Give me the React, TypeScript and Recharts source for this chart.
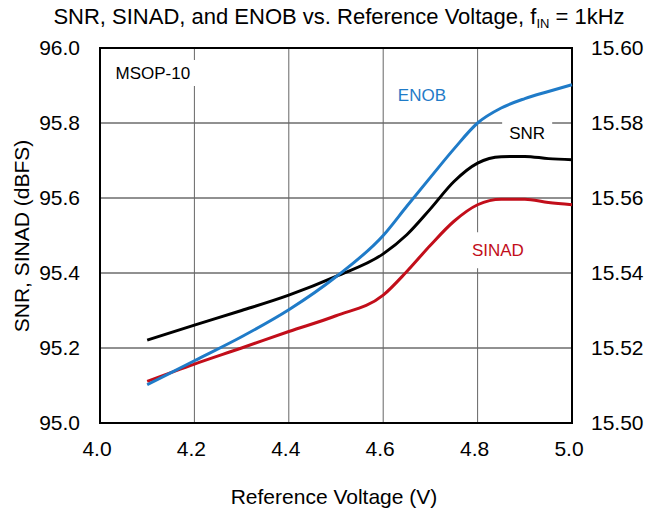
import { LineChart, Line, XAxis, YAxis, CartesianGrid, ReferenceArea } from 'recharts';

// Reference voltage sweep (V)
const voltage = [4.1, 4.2, 4.3, 4.4, 4.5, 4.6, 4.65, 4.7, 4.75, 4.8, 4.85, 4.9, 4.95, 5.0];
// SNR and SINAD in dBFS (left axis)
const snr = [95.221, 95.261, 95.3, 95.341, 95.391, 95.451, 95.502, 95.571, 95.644, 95.693, 95.71, 95.711, 95.705, 95.702];
const sinad = [95.111, 95.157, 95.2, 95.244, 95.286, 95.341, 95.404, 95.474, 95.538, 95.582, 95.597, 95.597, 95.588, 95.582];
// ENOB in bits (right axis)
const enob = [15.5102, 15.5166, 15.523, 15.5302, 15.539, 15.55, 15.5578, 15.5655, 15.5731, 15.58, 15.584, 15.5865, 15.5884, 15.5902];

const xTicks = [4.0, 4.2, 4.4, 4.6, 4.8, 5.0];
const leftTicks = [95.0, 95.2, 95.4, 95.6, 95.8, 96.0];
const rightTicks = [15.5, 15.52, 15.54, 15.56, 15.58, 15.6];

const data = voltage.map((v, i) => ({ v, snr: snr[i], sinad: sinad[i], enob: enob[i] }));

const FONT = '"Liberation Sans", Arial, sans-serif';
const BLUE = '#1f7bc8';
const RED = '#c20e1a';

const tickStyle = { fill: '#000', fontSize: 21, fontFamily: FONT };

export default function App() {
  return (
    <div style={{ position: 'fixed', left: 0, top: 0, width: 647, height: 514, background: '#fff' }}>
      <LineChart width={647} height={514} data={data} margin={{ top: 48, right: 0, bottom: 0, left: 0 }}>
        <CartesianGrid yAxisId="left" vertical={false} stroke="#222" strokeWidth={1} />
        <CartesianGrid yAxisId="left" horizontal={false} stroke="#666" strokeWidth={1} />
        <XAxis
          dataKey="v"
          type="number"
          domain={[4, 5]}
          ticks={xTicks}
          tickFormatter={(t: number) => t.toFixed(1)}
          height={91}
          axisLine={false}
          tickLine={false}
          tickSize={0}
          tickMargin={18}
          tick={{ ...tickStyle, dx: -3 }}
        />
        <YAxis
          yAxisId="left"
          domain={[95, 96]}
          ticks={leftTicks}
          tickFormatter={(t: number) => t.toFixed(1)}
          width={100}
          axisLine={false}
          tickLine={false}
          tickSize={0}
          tickMargin={20}
          tick={tickStyle}
        />
        <YAxis
          yAxisId="right"
          orientation="right"
          domain={[15.5, 15.6]}
          ticks={rightTicks}
          tickFormatter={(t: number) => t.toFixed(2)}
          width={75}
          axisLine={false}
          tickLine={false}
          tickSize={0}
          tickMargin={19}
          tick={tickStyle}
        />

        {/* white boxes behind the in-plot labels */}
        <ReferenceArea yAxisId="left" x1={4.021} x2={4.203} y1={95.899} y2={95.968} fill="#fff" fillOpacity={1} stroke="none"
          label={{ value: 'MSOP-10', position: 'center', fill: '#000', fontSize: 17, fontFamily: FONT }} />
        <ReferenceArea yAxisId="left" x1={4.852} x2={4.958} y1={95.728} y2={95.821} fill="#fff" fillOpacity={1} stroke="none"
          label={{ value: 'SNR', position: 'center', fill: '#000', fontSize: 17, fontFamily: FONT }} />
        <ReferenceArea yAxisId="left" x1={4.775} x2={4.911} y1={95.413} y2={95.509} fill="#fff" fillOpacity={1} stroke="none"
          label={{ value: 'SINAD', position: 'center', fill: RED, fontSize: 17, fontFamily: FONT }} />
        <ReferenceArea yAxisId="left" x1={4.63} x2={4.734} y1={95.84} y2={95.91} fill="none" stroke="none"
          label={{ value: 'ENOB', position: 'center', fill: BLUE, fontSize: 17, fontFamily: FONT }} />

        <Line yAxisId="left" type="monotone" dataKey="snr" stroke="#000" strokeWidth={3} dot={false} isAnimationActive={false} />
        <Line yAxisId="left" type="monotone" dataKey="sinad" stroke={RED} strokeWidth={3} dot={false} isAnimationActive={false} />
        <Line yAxisId="right" type="monotone" dataKey="enob" stroke={BLUE} strokeWidth={3} dot={false} isAnimationActive={false} />

        {/* plot frame */}
        <ReferenceArea yAxisId="left" x1={4} x2={5} y1={95} y2={96} fill="none" stroke="#000" strokeWidth={2} ifOverflow="visible" />
      </LineChart>

      <svg width={647} height={514} style={{ position: 'absolute', left: 0, top: 0, pointerEvents: 'none' }} fontFamily={FONT}>
        <text x={339} y={24} textAnchor="middle" fontSize={22} fill="#000">
          SNR, SINAD, and ENOB vs. Reference Voltage, f
          <tspan fontSize={13} dy={4}>IN</tspan>
          <tspan dy={-4}> = 1kHz</tspan>
        </text>
        <text x={334} y={504} textAnchor="middle" fontSize={21} fill="#000">Reference Voltage (V)</text>
        <text x={29} y={236} textAnchor="middle" fontSize={21} fill="#000" transform="rotate(-90 29 236)">SNR, SINAD (dBFS)</text>
      </svg>
    </div>
  );
}
